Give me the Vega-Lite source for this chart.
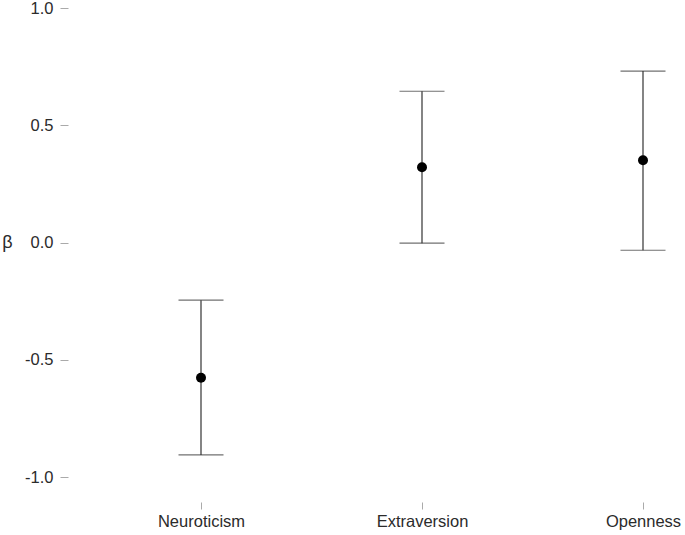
{
  "$schema": "https://vega.github.io/schema/vega-lite/v6.json",
  "width": 595,
  "height": 469,
  "autosize": "none",
  "padding": {"left": 90, "top": 8, "right": 0, "bottom": 58},
  "background": "white",
  "data": {
    "values": [
      {"trait": "Neuroticism", "beta": -0.577, "lower": -0.906, "upper": -0.246},
      {"trait": "Extraversion", "beta": 0.321, "lower": -0.003, "upper": 0.645},
      {"trait": "Openness", "beta": 0.351, "lower": -0.033, "upper": 0.731}
    ]
  },
  "encoding": {
    "x": {
      "field": "trait",
      "type": "nominal",
      "sort": ["Neuroticism", "Extraversion", "Openness"],
      "scale": {"type": "point", "range": [111, 553], "padding": 0},
      "axis": {
        "title": null,
        "labelAngle": 0,
        "domain": false,
        "offset": 25,
        "tickSize": 7,
        "tickColor": "#aaaaaa",
        "labelPadding": 4,
        "labelFont": "Liberation Sans",
        "labelFontSize": 16.5,
        "labelColor": "#2b2b2b"
      }
    }
  },
  "layer": [
    {
      "mark": {"type": "rule", "color": "#333333", "strokeWidth": 1.2},
      "encoding": {
        "y": {
          "field": "lower",
          "type": "quantitative",
          "scale": {"domain": [-1, 1], "nice": false, "zero": false},
          "axis": {
            "title": "β",
            "titleAngle": 0,
            "titleX": -61,
            "titleY": 234,
            "titleAlign": "center",
            "titleBaseline": "middle",
            "titleFont": "Liberation Sans",
            "titleFontSize": 18,
            "titleFontWeight": "normal",
            "titleColor": "#2b2b2b",
            "values": [-1, -0.5, 0, 0.5, 1],
            "labelExpr": "datum.value < 0 ? '-' + format(-datum.value, '.1f') : format(datum.value, '.1f')",
            "grid": false,
            "domain": false,
            "offset": 22,
            "tickSize": 8,
            "tickColor": "#aaaaaa",
            "labelPadding": 7,
            "labelFont": "Liberation Sans",
            "labelFontSize": 16.5,
            "labelColor": "#2b2b2b"
          }
        },
        "y2": {"field": "upper"}
      }
    },
    {
      "mark": {"type": "tick", "color": "#333333", "thickness": 1.2, "size": 45},
      "encoding": {"y": {"field": "lower", "type": "quantitative"}}
    },
    {
      "mark": {"type": "tick", "color": "#333333", "thickness": 1.2, "size": 45},
      "encoding": {"y": {"field": "upper", "type": "quantitative"}}
    },
    {
      "mark": {"type": "circle", "color": "black", "opacity": 1, "size": 100},
      "encoding": {"y": {"field": "beta", "type": "quantitative"}}
    }
  ],
  "config": {"view": {"stroke": null}}
}
